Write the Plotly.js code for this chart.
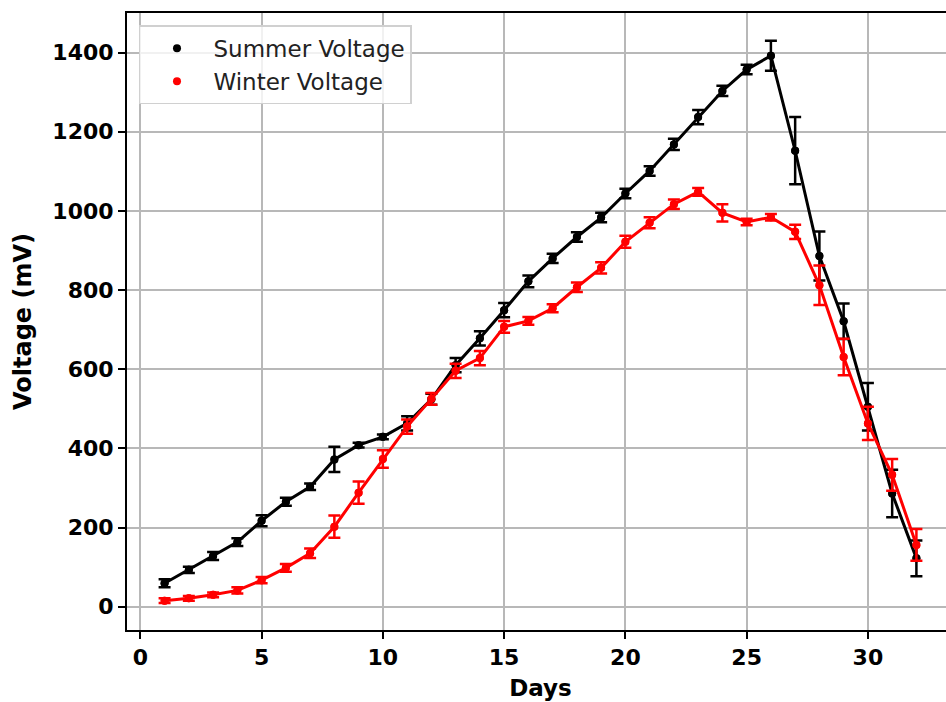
<!DOCTYPE html>
<html>
<head>
<meta charset="utf-8">
<script src="https://cdn.plot.ly/plotly-3.0.1.min.js"></script>
<style>
  html, body { margin: 0; padding: 0; overflow: hidden; background: #fff; }
  #chart { width: 960px; height: 702px; }
</style>
</head>
<body>
<div id="chart"></div>
<script>
// Daily voltage readings with standard deviation
const days = [1, 2, 3, 4, 5, 6, 7, 8, 9, 10, 11, 12, 13, 14, 15, 16,
              17, 18, 19, 20, 21, 22, 23, 24, 25, 26, 27, 28, 29, 30, 31, 32];

const summerVoltage = [59, 93, 128, 163, 217, 265, 303, 372, 408, 429, 463, 524,
                       610, 678, 749, 822, 880, 934, 983, 1044, 1101, 1168, 1237, 1303,
                       1357, 1392, 1152, 886, 721, 505, 286, 122];
const summerError = [10, 8, 10, 10, 14, 10, 8, 32, 6, 6, 18, 14,
                     18, 18, 18, 15, 12, 12, 12, 12, 12, 14, 18, 13,
                     12, 38, 85, 62, 45, 60, 60, 45];

const winterVoltage = [15, 21, 30, 41, 67, 98, 135, 202, 288, 373, 455, 525,
                       596, 628, 707, 722, 754, 807, 856, 922, 970, 1017, 1048, 995,
                       972, 984, 947, 812, 631, 463, 333, 156];
const winterError = [6, 6, 6, 8, 8, 10, 12, 28, 28, 22, 18, 15,
                     18, 18, 15, 10, 10, 12, 14, 15, 14, 12, 10, 22,
                     8, 8, 18, 50, 46, 42, 40, 40];

const yTicks = [0, 200, 400, 600, 800, 1000, 1200, 1400];
const xTicks = [0, 5, 10, 15, 20, 25, 30];

const FONT = 'DejaVu Sans, Arial, sans-serif';

function seriesTraces(name, y, err, color) {
  return [
    {
      // connecting line with error bars
      x: days, y: y, type: 'scatter', mode: 'lines+markers',
      line: { color: color, width: 3 },
      marker: { color: color, size: 8 },
      error_y: { type: 'data', array: err, visible: true, color: color, thickness: 2.5, width: 6 },
      showlegend: false, hoverinfo: 'skip'
    },
    {
      // point markers (legend entry)
      x: days, y: y, type: 'scatter', mode: 'markers',
      name: name,
      marker: { color: color, size: 8 }
    }
  ];
}

const data = [
  ...seriesTraces('Summer Voltage', summerVoltage, summerError, '#000000'),
  ...seriesTraces('Winter Voltage', winterVoltage, winterError, '#ff0000')
];

const axisCommon = {
  showline: true, mirror: true, linecolor: '#000', linewidth: 2,
  showgrid: true, gridcolor: '#b8b8b8', gridwidth: 2,
  zeroline: false,
  ticks: 'outside', ticklen: 7, tickwidth: 2, tickcolor: '#000',
  tickfont: { family: FONT, size: 22, color: '#000', weight: 'bold' }
};

const layout = {
  width: 960, height: 702,
  margin: { l: 127, r: 6, t: 13, b: 72 },
  paper_bgcolor: '#fff', plot_bgcolor: '#fff',
  font: { family: FONT, color: '#000' },
  xaxis: Object.assign({}, axisCommon, {
    range: [-0.55, 33.55],
    tickvals: xTicks, ticktext: xTicks.map(String),
    title: { text: '<b>Days</b>', font: { family: FONT, size: 23, color: '#000' }, standoff: 10 }
  }),
  yaxis: Object.assign({}, axisCommon, {
    range: [-59, 1500],
    tickvals: yTicks, ticktext: yTicks.map(String),
    title: { text: '<b>Voltage (mV)</b>', font: { family: FONT, size: 24, color: '#000' }, standoff: 14 }
  }),
  legend: {
    x: 0.0145, y: 0.98, xanchor: 'left', yanchor: 'top',
    bgcolor: 'rgba(255,255,255,0.8)', bordercolor: '#d0d0d0', borderwidth: 1.5,
    font: { family: FONT, size: 23, color: '#222' },
    itemwidth: 63, tracegroupgap: 2
  },
  showlegend: true
};

Plotly.newPlot('chart', data, layout, { displayModeBar: false, staticPlot: true });
</script>
</body>
</html>
